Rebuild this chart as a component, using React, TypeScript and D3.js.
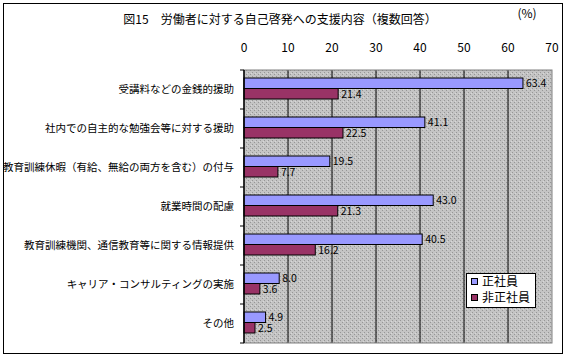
import React from "react";
import * as d3 from "d3";

const categories = [
  "受講料などの金銭的援助",
  "社内での自主的な勉強会等に対する援助",
  "教育訓練休暇（有給、無給の両方を含む）の付与",
  "就業時間の配慮",
  "教育訓練機関、通信教育等に関する情報提供",
  "キャリア・コンサルティングの実施",
  "その他",
];
const regular = [63.4, 41.1, 19.5, 43.0, 40.5, 8.0, 4.9];
const nonRegular = [21.4, 22.5, 7.7, 21.3, 16.2, 3.6, 2.5];
const seriesNames = ["正社員", "非正社員"];
const ticks = [0, 10, 20, 30, 40, 50, 60, 70];
const title = "図15　労働者に対する自己啓発への支援内容（複数回答）";

const W = 567;
const H = 359;
const font = "'Noto Sans CJK JP', sans-serif";

export default function App() {
  const x = d3.scaleLinear().domain([0, 70]).range([244, 552]);
  const y = d3.scaleBand<string>().domain(categories).range([70, 343]).padding(0);
  const barH = 10.5;
  const colors = ["#9999FF", "#993366"];
  const series = [regular, nonRegular];

  return (
    <svg
      width={W}
      height={H}
      style={{ position: "absolute", left: 0, top: 0, background: "#fff" }}
      fontFamily={font}
    >
      <defs>
        <pattern id="dots" width="4" height="4" patternUnits="userSpaceOnUse">
          <rect width="4" height="4" fill="#c4c4c4" />
          <rect x="0" y="0" width="1" height="1" fill="#969696" />
          <rect x="2" y="2" width="1" height="1" fill="#969696" />
          <rect x="3" y="1" width="1" height="1" fill="#d8d8d8" />
        </pattern>
      </defs>
      <rect x={3.5} y={3.5} width={559} height={350} fill="#fff" stroke="#000" strokeWidth={1} />
      <text x={280} y={24} fontSize={12} textAnchor="middle" fill="#000">
        {title}
      </text>
      <text x={527} y={18} fontSize={12} textAnchor="middle" fill="#000">
        (%)
      </text>
      <rect x={x(0)} y={70} width={x(70) - x(0)} height={273} fill="url(#dots)" />
      {ticks.slice(1, -1).map((t) => (
        <line key={t} x1={x(t)} x2={x(t)} y1={70} y2={343} stroke="#000" strokeWidth={1} />
      ))}
      <rect x={x(0)} y={70} width={x(70) - x(0)} height={273} fill="none" stroke="#808080" strokeWidth={1} />
      {ticks.map((t) => (
        <text key={t} x={x(t)} y={52} fontSize={12} textAnchor="middle" fill="#000">
          {t}
        </text>
      ))}
      {categories.map((c, i) => {
        const cy = (y(c) as number) + y.bandwidth() / 2 - 1;
        return (
          <g key={c}>
            {series.map((s, k) => {
              const by = cy - barH + k * barH;
              return (
                <g key={k}>
                  <rect
                    x={x(0)}
                    y={by}
                    width={x(s[i]) - x(0)}
                    height={barH}
                    fill={colors[k]}
                    stroke="#000"
                    strokeWidth={1}
                  />
                  <text x={x(s[i]) + 3} y={by + barH / 2 + 4} fontSize={10.5} fill="#000">
                    {s[i].toFixed(1)}
                  </text>
                </g>
              );
            })}
            <text x={234} y={cy + 4} fontSize={10.5} textAnchor="end" fill="#000">
              {c}
            </text>
          </g>
        );
      })}
      <line x1={x(0)} x2={x(0)} y1={70} y2={343} stroke="#000" strokeWidth={1.5} />
      {categories.map((c) => (
        <line key={c} x1={x(0) - 4} x2={x(0)} y1={y(c) as number} y2={y(c) as number} stroke="#000" />
      ))}
      <line x1={x(0) - 4} x2={x(0)} y1={343} y2={343} stroke="#000" />
      <rect x={466.5} y={273.5} width={69} height={34} fill="#fff" stroke="#000" strokeWidth={1} />
      {seriesNames.map((n, k) => (
        <g key={n}>
          <rect x={471.5} y={278.5 + k * 16} width={6} height={6} fill={colors[k]} stroke="#000" />
          <text x={482} y={286 + k * 16} fontSize={12} fill="#000">
            {n}
          </text>
        </g>
      ))}
    </svg>
  );
}
